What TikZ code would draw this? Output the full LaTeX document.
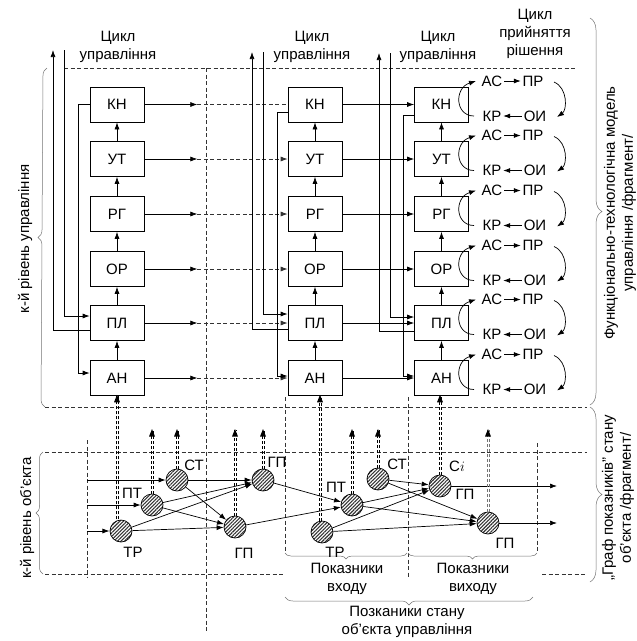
\documentclass[tikz,border=0pt]{standalone}
\usepackage{fontspec}
\setmainfont{Liberation Sans}
\usetikzlibrary{arrows.meta,calc,decorations.pathreplacing,decorations.markings,patterns.meta}
\newcommand{\dblarr}[3][black]{%
  \draw[dblside, draw=#1, transform canvas={xshift=-1.1pt}] #2 -- #3;
  \draw[dblside, draw=#1, transform canvas={xshift=1.1pt}] #2 -- #3;
  \path[dbltip] #2 -- #3;}
\begin{document}
\begin{tikzpicture}[x=1pt,y=-1pt,
  font=\fontsize{15}{18}\selectfont,
  >={Latex[length=7pt,width=5pt]},
  line width=0.7pt,
  box/.style={draw, minimum width=54pt, minimum height=35pt, inner sep=0pt},
  lbl/.style={inner sep=1.5pt},
  dsh/.style={draw=black!80, dash pattern=on 4pt off 2.5pt},
  brc/.style={draw=black!55, line width=0.5pt, decorate, decoration={brace, amplitude=#1}},
  brcm/.style={draw=black!55, line width=0.5pt, decorate, decoration={brace, mirror, amplitude=#1}},
  circ/.style={circle, draw, minimum size=22pt, inner sep=0pt, pattern={Lines[angle=45,distance=2.5pt,line width=1.1pt]}, pattern color=black!80},
  dblside/.style={dash pattern=on 3pt off 2pt, line width=0.6pt},
  dbltip/.style={postaction={decorate, decoration={markings, mark=at position 1 with {\fill[black] (1pt,0pt) -- (-6.5pt,3pt) -- (-6.5pt,-3pt) -- cycle;}}}}
]
\useasboundingbox (0,0) rectangle (637,641);

% ---------- top labels
\node[align=center] (c1) at (118,47) {Цикл\\управління};
\node[align=center] (c2) at (312,47) {Цикл\\управління};
\node[align=center] (c3) at (438,47) {Цикл\\управління};
\node[align=center] (c4) at (535,34) {Цикл\\прийняття\\рішення};

% ---------- region borders
\coordinate (u1) at (64,68);   \coordinate (u2) at (577,68);
\coordinate (u3) at (45,407);  \coordinate (u4) at (587,407);
\coordinate (o1) at (45,452);  \coordinate (o2) at (587,452);
\coordinate (o3) at (45,574);  \coordinate (o4) at (285,574);
\coordinate (o5) at (542,574); \coordinate (o6) at (587,574);
\draw[dsh] (u1) -- (u2);
\draw[dsh] (u3) -- (u4);
\draw[dsh] (o1) -- (o2);
\draw[dsh] (o3) -- (o4);
\draw[dsh] (o5) -- (o6);
\coordinate (v1a) at (206,68);  \coordinate (v1b) at (206,633);
\coordinate (v2a) at (87,440);  \coordinate (v2b) at (87,578);
\coordinate (v3a) at (285,397); \coordinate (v3b) at (285,553);
\coordinate (v4a) at (408,397); \coordinate (v4b) at (408,578);
\coordinate (v5a) at (537,443); \coordinate (v5b) at (537,553);
\draw[dsh] (v1a) -- (v1b);
\draw[dsh] (v2a) -- (v2b);
\draw[dsh] (v3a) -- (v3b);
\draw[dsh] (v4a) -- (v4b);
\draw[dsh] (v5a) -- (v5b);

% ---------- boxes
\foreach \n/\t/\y in {kn/КН/104.5, ut/УТ/159, rg/РГ/214, or/ОР/269, pl/ПЛ/323, an/АН/378} {
  \node[box] (\n1) at (117,\y) {\t};
  \node[box] (\n2) at (315,\y) {\t};
  \node[box] (\n3) at (441.5,\y) {\t};
}
\foreach \a/\b in {an/pl, pl/or, or/rg, rg/ut, ut/kn}
  \foreach \c in {1,2,3}
    \draw[->] (\a\c.north) -- (\b\c.south);

% ---------- row connections
\foreach \n in {kn,ut,rg,or,pl,an} {
  \path (\n1.east) ++(53,0) coordinate (h\n);
  \draw[->] (\n1.east) -- (h\n);
  \draw[->] (\n2.east) -- (\n3.west);
}
\draw[dsh] (hkn) -- (kn2.west);
\foreach \n in {ut,rg,or,pl,an}
  \draw[dsh,->] (h\n) -- (\n2.west);

% ---------- feedback lines
\coordinate (ta1) at (53,50);  \coordinate (tb1) at (64,50);
\coordinate (ta2) at (252,52); \coordinate (tb2) at (263,52);
\coordinate (ta3) at (379,53); \coordinate (tb3) at (390,53);
\draw[->] ($(pl1.west)+(0,7)$) -| (ta1);
\draw[->] (tb1) |- ($(pl1.west)+(0,-7)$);
\draw[->] (kn1.west) -- ++(-11,0) |- ($(an1.west)+(0,-5)$);
\draw[->] ($(pl2.west)+(0,6)$) -| (ta2);
\draw[->] (tb2) |- ($(pl2.west)+(0,-9)$);
\draw[->] ($(kn2.west)+(0,8)$) -- ++(-10,0) |- ($(an2.west)+(0,-2)$);
\draw[->] ($(pl3.west)+(0,8)$) -| (ta3);
\draw[->] (tb3) |- ($(pl3.west)+(0,-6)$);
\draw[->] ($(kn3.west)+(0,11)$) -- ++(-10.5,0) |- ($(an3.west)+(0,-2)$);

% ---------- decision cycles
\foreach \n/\y in {kn/104.5, ut/159, rg/214, or/269, pl/323, an/378} {
  \node[lbl] (ac\n) at (492,\y-23.5) {АС};
  \node[lbl] (pr\n) at (533,\y-23.5) {ПР};
  \node[lbl] (kr\n) at (492,\y+11.5) {КР};
  \node[lbl] (oi\n) at (535,\y+11.5) {ОИ};
  \draw[->] (ac\n) -- (pr\n);
  \draw[->] (oi\n) -- (kr\n);
  \draw[->] ($(kr\n)+(-18,0)$) .. controls +(-19,0) and +(-22,7) .. ($(ac\n)+(-16,0)$);
  \draw[->] ($(pr\n)+(21,1)$) .. controls +(14,6) and +(10,-7) .. ($(oi\n)+(22,1)$);
}

% ---------- braces and side texts
\draw[brc=8pt] (45,407) -- (47,68);
\draw[brc=7pt] (43,574) -- (43,452);
\draw[brc=12pt] (590,18) -- (590,405);
\draw[brc=12pt] (590,407) -- (590,582);
\draw[brcm=6pt] (285,553) -- (407,553);
\draw[brcm=6pt] (408,553) -- (537,553);
\draw[brcm=8pt] (285,597) -- (533,597);

\node[rotate=90] (lk1) at (25,239) {к-й рівень управління};
\node[rotate=90] (lk2) at (27,518) {к-й рівень об’єкта};
\node[rotate=90, align=center] (rf1) at (620,213) {Функціонально-технологічна модель\\управління /фрагмент/};
\node[rotate=90, align=center] (rf2) at (618,498) {„Граф показників” стану\\об’єкта /фрагмент/};

\node[align=center] (pin) at (347,579) {Показники\\входу};
\node[align=center] (pout) at (473,579) {Показники\\виходу};
\node[align=center, inner sep=1pt] (pst) at (407,622) {Позканики стану\\об’єкта управління};

% ---------- state graph
\node[circ] (tr1) at (121,531) {};
\node[circ] (pt1) at (152,505) {};
\node[circ] (st1) at (177,480) {};
\node[circ] (gu1) at (263,480) {};
\node[circ] (gl1) at (235,527) {};
\node[circ] (tr2) at (322,532) {};
\node[circ] (pt2) at (352,505) {};
\node[circ] (st2) at (378,479) {};
\node[circ] (ci)  at (440,486) {};
\node[circ] (gp2) at (488,523) {};

\node[lbl] (ltr1) at (133,552) {ТР};
\node[lbl] (lpt1) at (132,493) {ПТ};
\node[lbl] (lst1) at (194,465) {СТ};
\node[lbl] (lgu1) at (277,462) {ГП};
\node[lbl] (lgl1) at (244,553) {ГП};
\node[lbl] (ltr2) at (335,552) {ТР};
\node[lbl] (lpt2) at (336,487) {ПТ};
\node[lbl] (lst2) at (397,464) {СТ};
\node[lbl] (lci)  at (457,466) {C$i$};
\node[lbl] (lgc)  at (465,494) {ГП};
\node[lbl] (lgp2) at (505,543) {ГП};

\coordinate (i1) at (87,480); \coordinate (i2) at (87,505); \coordinate (i3) at (87,531);
\draw[->] (i1) -- (st1);
\draw[->] (i2) -- (pt1);
\draw[->] (i3) -- (tr1);
\foreach \a/\b in {st1/gu1, st1/gl1, pt1/gu1, pt1/gl1, tr1/gu1, tr1/gl1, gu1/pt2, gl1/pt2,
                   st2/ci, st2/gp2, pt2/ci, pt2/gp2, tr2/ci, tr2/gp2}
  \draw[->] (\a) -- (\b);
\coordinate (q1) at (557,486); \coordinate (q2) at (557,523);
\draw[->] (ci) -- (q1);
\draw[->] (gp2) -- (q2);

% ---------- double dashed arrows
\coordinate (lv) at (0,430);
\dblarr{(tr1.north -| an1.south)}{(an1.south)}
\dblarr{(pt1.north)}{(pt1.north |- lv)}
\dblarr{(st1.north)}{(st1.north |- lv)}
\dblarr{(gl1.north)}{(gl1.north |- lv)}
\dblarr{(gu1.north)}{(gu1.north |- lv)}
\path (tr2.north) ++(-2,0) coordinate (tr2n);
\dblarr{(tr2n)}{(tr2n |- an2.south)}
\dblarr{(pt2.north)}{(pt2.north |- lv)}
\dblarr{(st2.north)}{(st2.north |- lv)}
\dblarr{(ci.north)}{(ci.north |- an3.south)}
\dblarr[black!55]{(gp2.north)}{(gp2.north |- lv)}
\end{tikzpicture}
\end{document}
